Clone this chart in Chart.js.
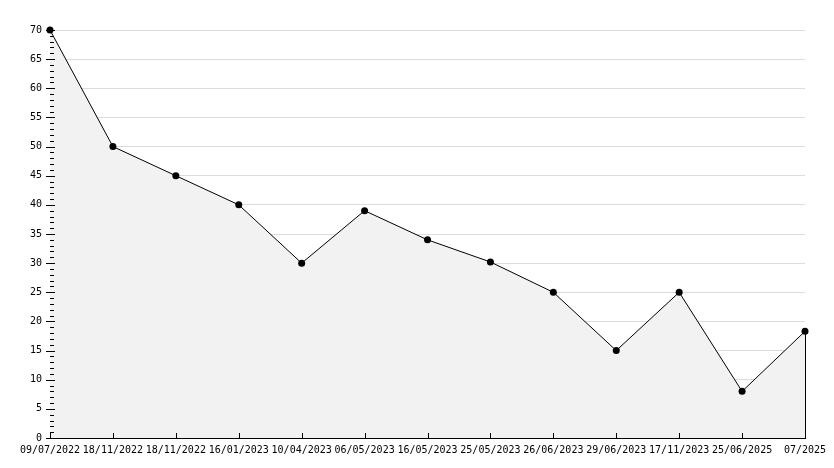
<!DOCTYPE html>
<html>
<head>
<meta charset="utf-8">
<script src="https://cdn.jsdelivr.net/npm/chart.js@4/dist/chart.umd.min.js"></script>
<style>
html,body{margin:0;padding:0;background:#fff;}
#wrap{width:834px;height:468px;position:relative;}
</style>
</head>
<body>
<div id="wrap"><canvas id="c" width="834" height="468"></canvas></div>
<script>
const categories = ["09/07/2022","18/11/2022","18/11/2022","16/01/2023","10/04/2023","06/05/2023","16/05/2023","25/05/2023","26/06/2023","29/06/2023","17/11/2023","25/06/2025","07/2025"];
const values = [70, 50, 45, 40, 30, 39, 34, 30.2, 25, 15, 25, 8, 18.3];
const yMin = 0, yMax = 70, yStep = 5, yMinorStep = 1;

const FONT = "'DejaVu Sans Mono', monospace";

const tickPlugin = {
  id: 'tickPlugin',
  afterDatasetsDraw(chart) {
    const ctx = chart.ctx;
    const x = chart.scales.x, y = chart.scales.y;
    const left = chart.chartArea.left, bottom = chart.chartArea.bottom;
    ctx.save();
    ctx.strokeStyle = '#000';
    ctx.lineWidth = 1;
    ctx.beginPath();
    for (let v = yMin; v <= yMax; v += yMinorStep) {
      const py = Math.round(y.getPixelForValue(v)) + 0.5;
      if (v % yStep === 0) { ctx.moveTo(left - 4, py); ctx.lineTo(left + 5, py); }
      else { ctx.moveTo(left, py); ctx.lineTo(left + 4, py); }
    }
    for (let i = 0; i < categories.length; i++) {
      const px = Math.round(x.getPixelForValue(i)) + 0.5;
      ctx.moveTo(px, bottom); ctx.lineTo(px, bottom - 5);
    }
    const lx = Math.round(x.getPixelForValue(categories.length - 1)) + 0.5;
    ctx.moveTo(lx, y.getPixelForValue(values[values.length - 1]));
    ctx.lineTo(lx, bottom);
    ctx.stroke();
    ctx.restore();
  }
};

new Chart(document.getElementById('c'), {
  type: 'line',
  data: {
    labels: categories,
    datasets: [{
      data: values,
      borderColor: '#000',
      borderWidth: 1,
      backgroundColor: '#f2f2f2',
      fill: 'origin',
      tension: 0,
      clip: false,
      pointRadius: 3.5,
      pointHoverRadius: 3.5,
      pointBackgroundColor: '#000',
      pointBorderColor: '#000',
      pointBorderWidth: 0
    }]
  },
  options: {
    responsive: false,
    animation: false,
    events: [],
    layout: { padding: { left: 0, right: 29, top: 30, bottom: 0 } },
    plugins: { legend: { display: false }, tooltip: { enabled: false } },
    scales: {
      x: {
        type: 'category',
        offset: false,
        grid: { display: false, drawTicks: false },
        border: { display: true, color: '#000', width: 1 },
        ticks: {
          autoSkip: false, maxRotation: 0, minRotation: 0,
          color: '#000', padding: 6,
          font: { family: FONT, size: 10 }
        },
        afterFit(s) { s.height = 30; }
      },
      y: {
        min: yMin, max: yMax,
        grid: { color: '#dcdcdc', lineWidth: 1, drawTicks: false },
        border: { display: true, color: '#000', width: 1 },
        ticks: {
          stepSize: yStep, color: '#000', padding: 8,
          font: { family: FONT, size: 10 }
        },
        afterFit(s) { s.width = 50; }
      }
    }
  },
  plugins: [tickPlugin]
});
</script>
</body>
</html>
